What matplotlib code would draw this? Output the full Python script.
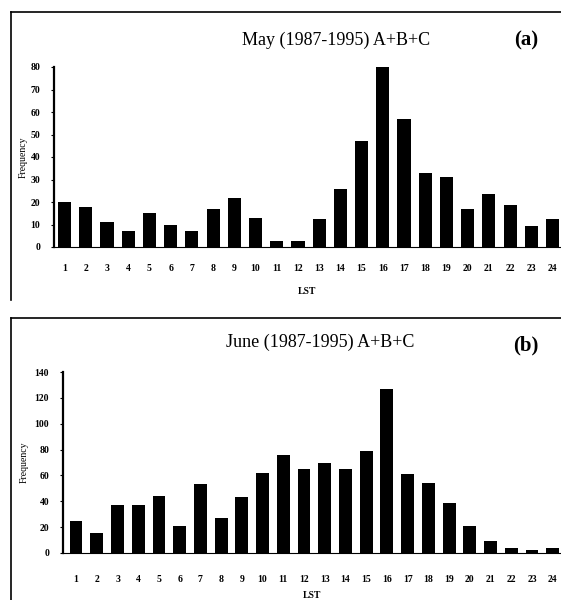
import matplotlib
matplotlib.use('Agg')
import matplotlib.pyplot as plt
from matplotlib.lines import Line2D

# 시간대(LST)별 빈도
hours = list(range(1, 25))
may_freq = [20, 18, 11, 7, 15, 10, 7, 17, 22, 13, 2.5, 2.5,
            12.5, 26, 47, 80, 57, 33, 31, 17, 23.5, 18.5, 9.5, 12.5]
june_freq = [25, 15.5, 37.5, 37.5, 44, 21, 53, 27, 43.5, 62, 76, 65,
             70, 65, 79, 127, 61, 54, 39, 21, 9, 4, 2.5, 4]

may_title = 'May (1987-1995) A+B+C'
june_title = 'June (1987-1995) A+B+C'

plt.rcParams['font.family'] = ['Liberation Serif', 'DejaVu Serif']

fig = plt.figure(figsize=(5.61, 6.0), dpi=100)


def px_axes(left, top, right, bottom):
    # 픽셀 좌표(위쪽 기준) -> figure 비율
    W, H = 561.0, 600.0
    return fig.add_axes([left / W, 1 - bottom / H, (right - left) / W, (bottom - top) / H])


def draw_panel(ax, values, ymax, ystep, xlo, xpad, lpad, ylpad):
    ax.bar(hours, values, width=0.62, color='black')
    ax.set_xlim(xlo, 24.4)
    ax.set_ylim(0, ymax)
    ax.set_xticks(hours)
    ax.set_xticklabels([str(h) for h in hours], fontsize=7, fontweight='bold')
    ax.set_yticks(range(0, ymax + 1, ystep))
    ax.set_yticklabels([str(v) for v in range(0, ymax + 1, ystep)], fontsize=7, fontweight='bold')
    ax.tick_params(axis='x', length=0, pad=xpad)
    ax.tick_params(axis='y', length=2, width=0.8, pad=8)
    for s in ['top', 'right']:
        ax.spines[s].set_visible(False)
    ax.spines['left'].set_linewidth(1.6)
    ax.spines['bottom'].set_linewidth(0.8)
    ax.set_xlabel('LST', fontsize=7, fontweight='bold', labelpad=lpad)
    ax.set_ylabel('Frequency', fontsize=7, labelpad=ylpad)


ax1 = px_axes(54, 67, 561, 247)
draw_panel(ax1, may_freq, 80, 10, 0.5, 12, 10, 2)

ax2 = px_axes(63, 372, 561, 553)
draw_panel(ax2, june_freq, 140, 20, 0.37, 16, 5, 4)

# 제목
fig.text(336 / 561, 1 - 40 / 600, may_title, ha='center', va='center', fontsize=13)
fig.text(526 / 561, 1 - 40 / 600, '(a)', ha='center', va='center', fontsize=15, fontweight='bold')
fig.text(320 / 561, 1 - 342 / 600, june_title, ha='center', va='center', fontsize=13)
fig.text(526 / 561, 1 - 345 / 600, '(b)', ha='center', va='center', fontsize=15, fontweight='bold')

# 패널 테두리
for (top, bot) in [(12, 300), (318, 600)]:
    y1 = 1 - top / 600
    y0 = 1 - bot / 600
    x0 = 11 / 561
    fig.add_artist(Line2D([x0, 1], [y1, y1], color='black', lw=1.2, transform=fig.transFigure))
    fig.add_artist(Line2D([x0, x0], [y0, y1], color='black', lw=1.2, transform=fig.transFigure))

fig.savefig('out.png', dpi=100)
